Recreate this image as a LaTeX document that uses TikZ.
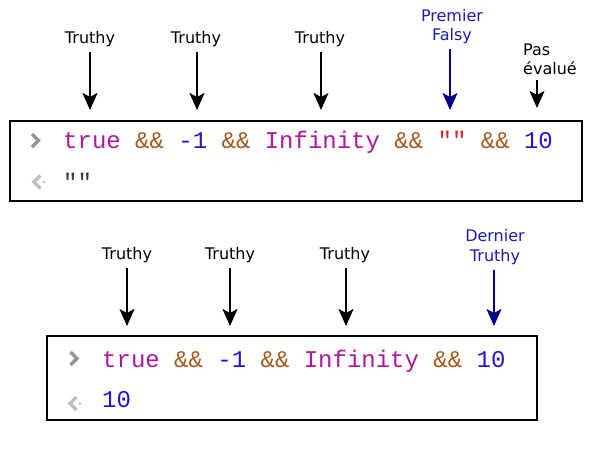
\documentclass[tikz,border=0pt]{standalone}
\usepackage{fontspec}
\setmainfont{DejaVu Sans}
\newfontfamily\codefont{Liberation Mono}
\usetikzlibrary{arrows.meta}
\definecolor{jskey}{HTML}{B0169C}
\definecolor{jsop}{HTML}{A85A1C}
\definecolor{jsnum}{HTML}{2412D6}
\definecolor{jsstr}{HTML}{D42A2A}
\definecolor{jsout}{HTML}{3A3A3A}
\definecolor{labblue}{HTML}{1C1CB0}
\definecolor{arrblue}{HTML}{00008E}
\tikzset{
  console/.style={draw=black, line width=2pt},
  codeline/.style={anchor=base west, inner sep=0pt, font=\codefont\fontsize{24}{28}\selectfont},
  lab/.style={anchor=base, inner sep=3pt, align=center, font=\fontsize{16}{19.5}\selectfont},
  pointer/.style={-{Stealth[length=17pt,width=15pt,inset=4pt]}, line width=2pt, shorten <=2pt},
  prompt/.style={line width=3.2pt, line join=miter},
}
\newcommand{\kw}[1]{\textcolor{jskey}{#1}}
\newcommand{\op}{\textcolor{jsop}{\&\&}}
\newcommand{\num}[1]{\textcolor{jsnum}{#1}}

\begin{document}
\begin{tikzpicture}[x=1pt,y=-1pt]
  \useasboundingbox (0,0) rectangle (600,450);
  % first console: stops at the first falsy value
  \draw[console] (10,121) rectangle (582,201);
  \draw[prompt,black!42] (32,134) -- (38.5,140.5) -- (32,147);
  \draw[prompt,black!25] (40.5,175.5) -- (34,182) -- (40.5,188.5);
  \fill[black!25] (44,182) circle (1.4);
  \node[codeline] (in1) at (63,148.5)
    {\kw{true} \op{} \num{-1} \op{} \kw{Infinity} \op{} \textcolor{jsstr}{""} \op{} \num{10}};
  \node[codeline,text=jsout] (out1) at (63,190) {""};
  % labels above
  \node[lab] (t1) at (90,43.3) {Truthy};
  \node[lab] (t2) at (196,43.3) {Truthy};
  \node[lab] (t3) at (320,43.3) {Truthy};
  \node[lab,text=labblue] (f1) at (452,40.5) {Premier\\Falsy};
  \node[lab,anchor=base west,align=left] (n1) at (520,74.5) {Pas\\évalué};
  \coordinate (a1) at (90,110);
  \coordinate (a2) at (197,110);
  \coordinate (a3) at (321,110);
  \coordinate (a4) at (450,110);
  \coordinate (a5) at (537,108);
  \draw[pointer] (t1.south -| a1) -- (a1);
  \draw[pointer] (t2.south -| a2) -- (a2);
  \draw[pointer] (t3.south -| a3) -- (a3);
  \draw[pointer,arrblue] (f1.south -| a4) -- (a4);
  \draw[pointer] (n1.south -| a5) -- (a5);
  % second console: all truthy, last one is returned
  \draw[console] (47,336) rectangle (537,420);
  \draw[prompt,black!42] (70.5,352) -- (77,358.5) -- (70.5,365);
  \draw[prompt,black!25] (76.5,397) -- (70,403.5) -- (76.5,410);
  \fill[black!25] (80,403.5) circle (1.4);
  \node[codeline] (in2) at (102,367)
    {\kw{true} \op{} \num{-1} \op{} \kw{Infinity} \op{} \num{10}};
  \node[codeline] (out2) at (102,407) {\num{10}};
  \node[lab] (t4) at (127,259.5) {Truthy};
  \node[lab] (t5) at (230,259.5) {Truthy};
  \node[lab] (t6) at (345,259.5) {Truthy};
  \node[lab,text=labblue] (d1) at (495,261) {Dernier\\Truthy};
  \coordinate (b1) at (127,326);
  \coordinate (b2) at (230,326);
  \coordinate (b3) at (346,326);
  \coordinate (b4) at (494,326);
  \draw[pointer] (t4.south -| b1) -- (b1);
  \draw[pointer] (t5.south -| b2) -- (b2);
  \draw[pointer] (t6.south -| b3) -- (b3);
  \draw[pointer,arrblue] (d1.south -| b4) -- (b4);
\end{tikzpicture}
\end{document}
